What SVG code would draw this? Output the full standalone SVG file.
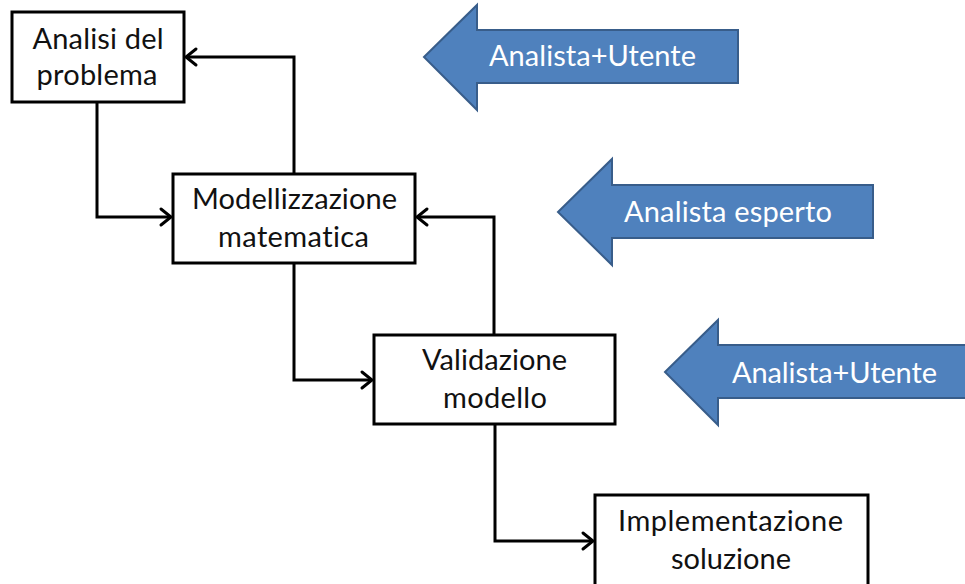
<svg xmlns="http://www.w3.org/2000/svg" width="965" height="584" viewBox="0 0 965 584">
  <defs>
    <style>
      .box { fill: #ffffff; stroke: #000000; stroke-width: 3; }
      .lbl { font-family: Lato, "Open Sans", "Liberation Sans", sans-serif; font-size: 29px; fill: #111111; text-anchor: middle; font-variant-ligatures: none; }
      .role { fill: #4F81BD; stroke: #385D8A; stroke-width: 2; stroke-linejoin: miter; }
      .roletxt { font-family: Lato, "Open Sans", "Liberation Sans", sans-serif; font-size: 29px; fill: #ffffff; text-anchor: middle; font-variant-ligatures: none; }
      .conn { fill: none; stroke: #000000; stroke-width: 3; stroke-linejoin: miter; marker-end: url(#chev); }
    </style>
    <marker id="chev" markerUnits="userSpaceOnUse" markerWidth="24" markerHeight="24" viewBox="-14 -12 16 24" refX="0" refY="0" orient="auto">
      <path d="M -10 -8 L 0 0 L -10 8" fill="none" stroke="#000000" stroke-width="3" stroke-linecap="round"/>
    </marker>
  </defs>

  <rect width="965" height="584" fill="#ffffff"/>

  <!-- connectors -->
  <g id="connectors">
    <path class="conn" d="M 97 102 V 217 H 171"/>
    <path class="conn" d="M 294 173 V 57 H 186"/>
    <path class="conn" d="M 294 263 V 380 H 372"/>
    <path class="conn" d="M 494 335 V 217 H 417"/>
    <path class="conn" d="M 495 424 V 541 H 593"/>
  </g>

  <!-- process steps -->
  <g id="analisi">
    <rect class="box" x="12" y="12" width="172" height="90"/>
    <text class="lbl" x="98" y="49" textLength="131">Analisi del</text>
    <text class="lbl" x="97" y="85" textLength="121">problema</text>
  </g>
  <g id="modellizzazione">
    <rect class="box" x="173" y="174" width="242" height="89"/>
    <text class="lbl" x="294.5" y="209" textLength="205">Modellizzazione</text>
    <text class="lbl" x="293.5" y="247" textLength="151">matematica</text>
  </g>
  <g id="validazione">
    <rect class="box" x="374" y="335" width="241" height="89"/>
    <text class="lbl" x="494.5" y="370" textLength="145">Validazione</text>
    <text class="lbl" x="495" y="408" textLength="104">modello</text>
  </g>
  <g id="implementazione">
    <rect class="box" x="595" y="495" width="273" height="100"/>
    <text class="lbl" x="730.5" y="531" textLength="225">Implementazione</text>
    <text class="lbl" x="731" y="569" textLength="120">soluzione</text>
  </g>

  <!-- actor arrows -->
  <g id="ruolo-analisi">
    <polygon class="role" points="424,57 477,5 477,30 738,30 738,83 477,83 477,110"/>
    <text class="roletxt" x="592.5" y="66" textLength="207">Analista+Utente</text>
  </g>
  <g id="ruolo-modello">
    <polygon class="role" points="558,212 612,159 612,185 873,185 873,238 612,238 612,265"/>
    <text class="roletxt" x="728" y="222" textLength="208">Analista esperto</text>
  </g>
  <g id="ruolo-validazione">
    <polygon class="role" points="665,372 718,320 718,345 975,345 975,398 718,398 718,425"/>
    <text class="roletxt" x="834.5" y="383" textLength="205">Analista+Utente</text>
  </g>
</svg>
